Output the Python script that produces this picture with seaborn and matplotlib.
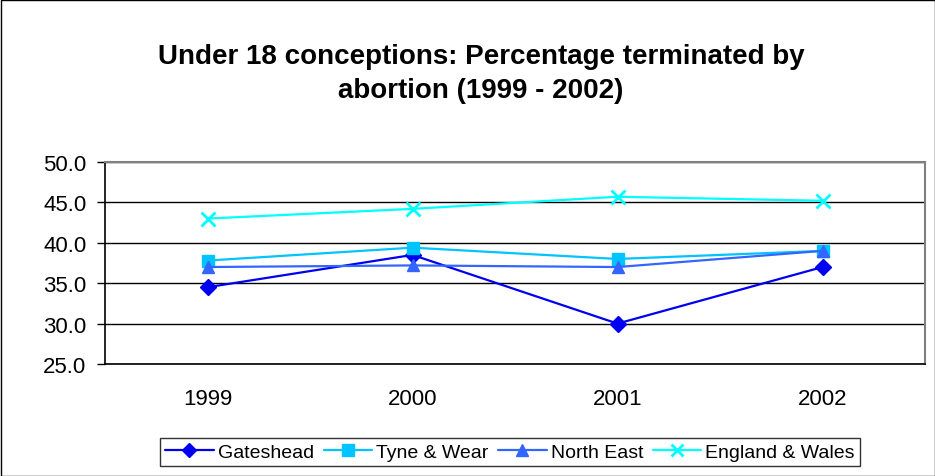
import pandas as pd
import seaborn as sns
import matplotlib.pyplot as plt
from matplotlib.ticker import FixedLocator, NullFormatter

years = ["1999", "2000", "2001", "2002"]
gateshead = [34.5, 38.5, 30.0, 37.0]
tyne_wear = [37.8, 39.4, 38.0, 39.0]
north_east = [37.0, 37.2, 37.0, 39.0]
england_wales = [43.0, 44.2, 45.7, 45.2]

series = {
    "Gateshead": gateshead,
    "Tyne & Wear": tyne_wear,
    "North East": north_east,
    "England & Wales": england_wales,
}
colors = {
    "Gateshead": "#0000F0",
    "Tyne & Wear": "#00C4FF",
    "North East": "#3366FF",
    "England & Wales": "#00FFFF",
}
markers = {
    "Gateshead": "D",
    "Tyne & Wear": "s",
    "North East": "^",
    "England & Wales": "x",
}
msizes = {"Gateshead": 8, "Tyne & Wear": 9, "North East": 9, "England & Wales": 10}

sns.set_style("white")
plt.rcParams["font.family"] = ["Liberation Sans", "DejaVu Sans"]
plt.rcParams["text.color"] = "black"
plt.rcParams["xtick.color"] = "black"
plt.rcParams["ytick.color"] = "black"

fig = plt.figure(figsize=(9.35, 4.77), dpi=100)
ax = fig.add_axes([105 / 935, 1 - 365 / 477, 820 / 935, 202 / 477])

for name, vals in series.items():
    df = pd.DataFrame({"pos": range(len(years)), "value": vals})
    sns.lineplot(
        data=df, x="pos", y="value", ax=ax, color=colors[name],
        marker=markers[name], markersize=msizes[name], linewidth=1.6,
        markeredgecolor=colors[name], markeredgewidth=2 if name == "England & Wales" else 1,
        label=name,
    )

ax.set_xlim(-0.5, 3.5)
ax.set_ylim(25, 50)
ax.set_yticks([25, 30, 35, 40, 45, 50])
ax.set_yticklabels([f"{v:.1f}" for v in [25, 30, 35, 40, 45, 50]], fontsize=16)
ax.set_xticks(range(len(years)))
ax.set_xticklabels(years, fontsize=16)
ax.xaxis.set_minor_locator(FixedLocator([-0.5, 0.5, 1.5, 2.5, 3.5]))
ax.xaxis.set_minor_formatter(NullFormatter())
ax.tick_params(axis="x", which="major", length=0, pad=17)
ax.tick_params(axis="x", which="minor", length=6, width=1, color="black", direction="out")
ax.tick_params(axis="y", length=6, width=1, color="black", direction="out", left=True, pad=7.5)
ax.set_xlabel("")
ax.set_ylabel("")
ax.grid(axis="y", color="black", linewidth=1)
ax.set_axisbelow(True)
for side in ["left", "bottom"]:
    ax.spines[side].set_color("black")
    ax.spines[side].set_linewidth(1.2)
for side in ["top", "right"]:
    ax.spines[side].set_color("#808080")
    ax.spines[side].set_linewidth(1.5)

leg = ax.legend(
    loc="center", bbox_to_anchor=(510 / 935, 1 - 453 / 477), bbox_transform=fig.transFigure,
    ncol=4, frameon=True, fancybox=False, fontsize=14, handlelength=2.5,
    columnspacing=0.5, handletextpad=0.2, borderpad=0.25, borderaxespad=0,
    markerscale=0.9,
)
leg.get_frame().set_edgecolor("black")
leg.get_frame().set_linewidth(1)

fig.text(481 / 935, 1 - 74 / 477,
         "Under 18 conceptions: Percentage terminated by\nabortion (1999 - 2002)",
         ha="center", va="center", fontsize=20, fontweight="bold", linespacing=1.4)

fig.patches.append(plt.Rectangle((0.5 / 935, 0.5 / 477), 1 - 1 / 935, 1 - 1 / 477,
                                 transform=fig.transFigure, fill=False,
                                 edgecolor="black", linewidth=1))

fig.savefig("out.png", dpi=100)
